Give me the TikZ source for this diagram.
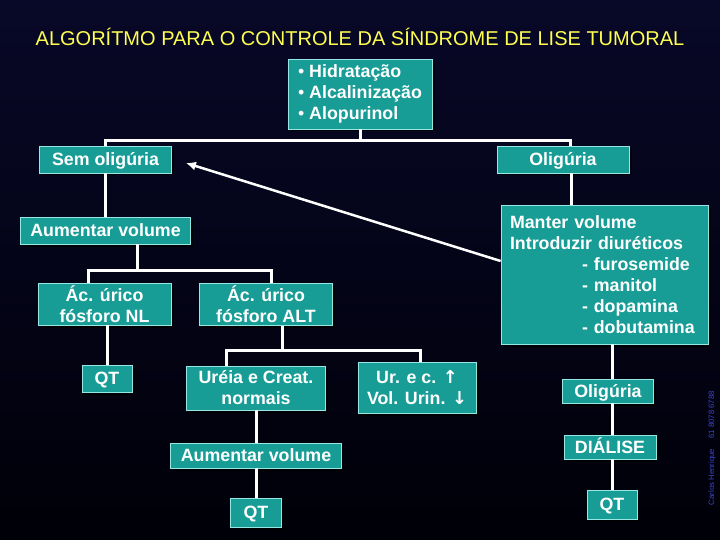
\documentclass[tikz,border=0pt]{standalone}
\usepackage{fontspec}
\setmainfont{Liberation Sans}
\newfontfamily\arrowfont{DejaVu Sans}
\usetikzlibrary{positioning,arrows.meta,calc,shadows}

\definecolor{bgtop}{RGB}{8,8,40}
\definecolor{bgmid}{RGB}{0,0,110}
\definecolor{bgbot}{RGB}{0,0,8}
\definecolor{boxfill}{RGB}{24,156,150}
\definecolor{boxline}{RGB}{150,232,228}
\definecolor{titlecol}{RGB}{255,255,80}
\definecolor{signcol}{RGB}{60,70,200}
\newcommand\boxfont{\fontsize{17.8}{21}\selectfont\bfseries}

\begin{document}
\begin{tikzpicture}[
  x=1pt, y=-1pt,
  box/.style={draw=boxline, fill=boxfill, line width=0.8pt, text=white, font=\boxfont, inner sep=0pt, align=center,
    drop shadow={shadow xshift=2.5pt, shadow yshift=-2.5pt, fill=black, opacity=0.75}},
  one/.style={text height=13pt, text depth=0.5pt},
  wire/.style={draw=white, line width=3pt},
  back/.style={draw=white, line width=2.5pt, -{Latex[length=10pt,width=9pt]}}
]
\shade[top color=bgtop, middle color=bgmid, bottom color=bgbot] (0,0) rectangle (720,540);
\useasboundingbox (0,0) rectangle (720,540);

\node[font=\fontsize{20}{24}\selectfont, text=titlecol] (title) at (360,37) {ALGORÍTMO PARA O CONTROLE DA SÍNDROME DE LISE TUMORAL};

% top of the tree
\node[box, align=left, minimum width=144pt, minimum height=70pt] (start) at (360,94) {\textmd{\textbullet}\ Hidratação\\\textmd{\textbullet}\ Alcalinização\\\textmd{\textbullet}\ Alopurinol};
\node[box, one, minimum width=132pt, minimum height=27pt] (semolig) at (105.5,159.5) {Sem oligúria};
\node[box, one, minimum width=132pt, minimum height=27pt] (olig) at (563,159.5) {Oligúria};

% left branch
\node[box, one, minimum width=170pt, minimum height=27pt] (aum) at (105.5,230.5) {Aumentar volume};
\node[box, minimum width=133pt, minimum height=42pt] (acnl) at (104.5,304) {Ác. úrico\\fósforo NL};
\node[box, minimum width=133pt, minimum height=42pt] (acalt) at (266,304.5) {Ác. úrico\\fósforo ALT};
\node[box, one, minimum width=50pt, minimum height=27pt] (qtnl) at (107,378.5) {QT};
\node[box, minimum width=139pt, minimum height=44pt] (ureia) at (256,388) {Uréia e Creat.\\normais};
\node[box, minimum width=118pt, minimum height=51pt] (urc) at (417,387.5) {Ur. e c. {\arrowfont ↑}\\Vol. Urin. {\arrowfont ↓}};
\node[box, one, minimum width=171pt, minimum height=25pt] (aumb) at (256,455.5) {Aumentar volume};
\node[box, one, minimum width=51pt, minimum height=29pt] (qtb) at (256,512.5) {QT};

% right branch
\node[box, align=left, text width=189pt, minimum width=207pt, minimum height=139pt] (manter) at (604.5,274.5)
  {Manter volume\\Introduzir diuréticos\\\hspace*{72pt}- furosemide\\\hspace*{72pt}- manitol\\\hspace*{72pt}- dopamina\\\hspace*{72pt}- dobutamina};
\node[box, one, minimum width=91pt, minimum height=24pt] (oligb) at (608,391) {Oligúria};
\node[box, one, minimum width=92pt, minimum height=24pt] (dialise) at (610,447) {DIÁLISE};
\node[box, one, minimum width=50pt, minimum height=29pt] (qtr) at (612,504.5) {QT};

\node[rotate=90, font=\fontsize{7.8}{9}\selectfont, text=signcol] (sign) at (712,448) {Carlos Henrique\quad\ 61 8078 6788};

% connectors
\coordinate (r1) at (360,141);
\coordinate (r2) at (137,270);
\coordinate (r3) at (282,350);
\draw[wire] (start.south) -- (r1);
\draw[wire] (semolig.north) |- (r1) -| ([xshift=7pt]olig.north);
\draw[wire] (semolig.south) -- (aum.north);
\draw[wire] (r2 |- aum.south) -- (r2);
\draw[wire] ([xshift=-16.5pt]acnl.north) |- (r2) -| ([xshift=5pt]acalt.north);
\draw[wire] (qtnl.north |- acnl.south) -- (qtnl.north);
\draw[wire] (r3 |- acalt.south) -- (r3);
\draw[wire] ([xshift=-30pt]ureia.north) |- (r3) -| ([xshift=3pt]urc.north);
\draw[wire] (ureia.south) -- (aumb.north);
\draw[wire] (aumb.south) -- (qtb.north);
\draw[wire] ([xshift=8pt]olig.south) -- ([xshift=8pt]olig.south |- manter.north);
\draw[wire] (manter.south -| qtr) -- (oligb.north -| qtr);
\draw[wire] (oligb.south -| qtr) -- (dialise.north -| qtr);
\draw[wire] (dialise.south -| qtr) -- (qtr.north);
\draw[back] ([yshift=13.5pt]manter.west) -- ([shift={(14pt,-3.5pt)}]semolig.east);
\end{tikzpicture}
\end{document}
